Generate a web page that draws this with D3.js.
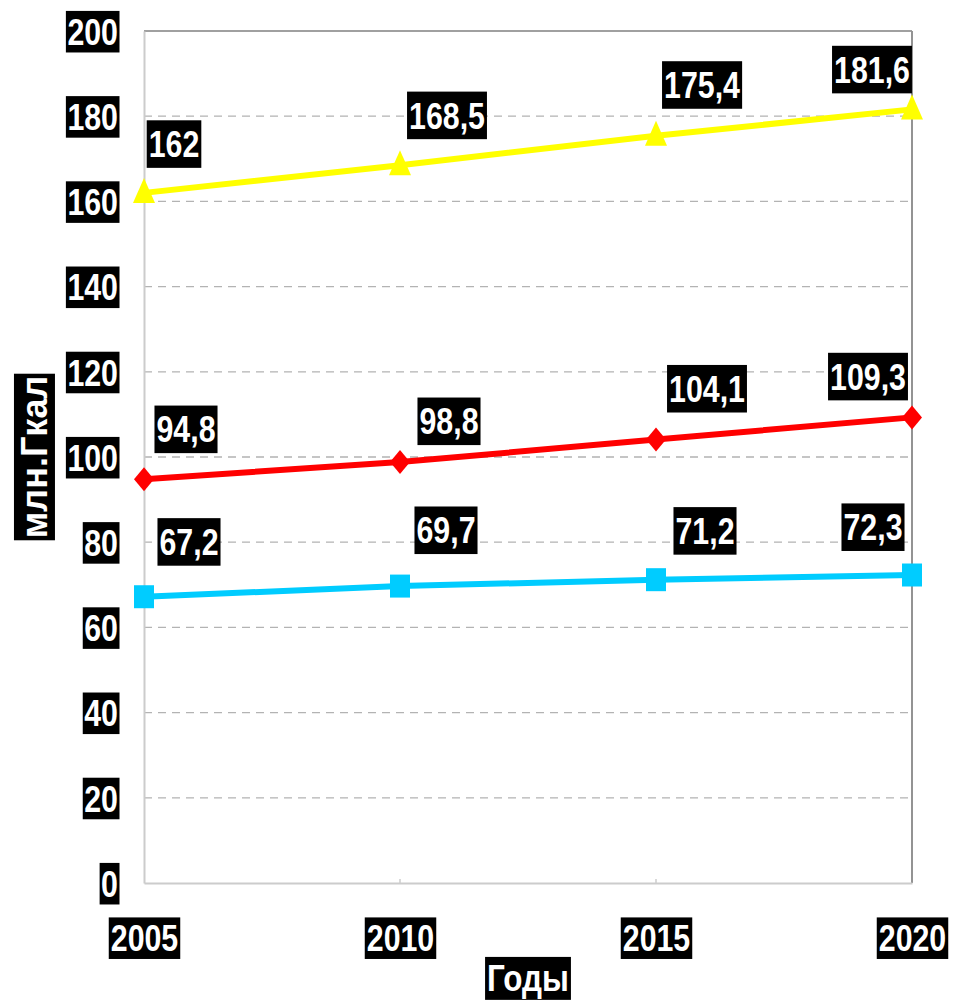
<!DOCTYPE html>
<html>
<head>
<meta charset="utf-8">
<script src="https://cdn.jsdelivr.net/npm/d3@7"></script>
<style>
  body { margin: 0; background: #fff; }
  text { font-family: "Liberation Sans Narrow", "Arial Narrow", "Liberation Sans", sans-serif; font-weight: bold; fill: #fff; }
</style>
</head>
<body>
<div id="chart"></div>
<script>
// data
const years = [2005, 2010, 2015, 2020];
const yTicks = [0, 20, 40, 60, 80, 100, 120, 140, 160, 180, 200];
const yellowVals = [162, 168.5, 175.4, 181.6];
const redVals = [94.8, 98.8, 104.1, 109.3];
const cyanVals = [67.2, 69.7, 71.2, 72.3];

// label placement relative to point (layout only)
const yellowLabelOff = [[30, -49], [47, -50], [46, -51], [-40, -40]];
const redLabelOff = [[42, -50], [49, -41], [51, -51], [-44, -41]];
const cyanLabelOff = [[45, -55], [46, -56], [49, -49], [-39, -48]];

const W = 954, H = 1002;
const margin = { top: 31, right: 42, bottom: 119, left: 144 };
const width = W - margin.left - margin.right;
const height = H - margin.top - margin.bottom;
const NARROW = 0.82; // no narrow font installed, squeeze the bold one

const svg = d3.select("#chart").append("svg")
    .attr("width", W)
    .attr("height", H);

const g = svg.append("g")
    .attr("transform", `translate(${margin.left}, ${margin.top})`);

const xScale = d3.scaleLinear()
    .domain([2005, 2020])
    .range([0, width]);

const yScale = d3.scaleLinear()
    .domain([0, 200])
    .range([height, 0]);

// gridlines
g.append("g")
    .selectAll("line")
    .data(yTicks.filter(d => d > 0 && d < 200))
    .enter()
    .append("line")
    .attr("x1", 0)
    .attr("x2", width)
    .attr("y1", d => yScale(d))
    .attr("y2", d => yScale(d))
    .attr("stroke", "#b3b3b3")
    .attr("stroke-width", 1.3)
    .attr("stroke-dasharray", "8,6");

// plot frame: top and right darker, left and bottom lighter
g.append("line").attr("x1", 0).attr("x2", width).attr("y1", 0).attr("y2", 0)
    .attr("stroke", "#a0a0a0").attr("stroke-width", 2);
g.append("line").attr("x1", width).attr("x2", width).attr("y1", 0).attr("y2", height)
    .attr("stroke", "#939393").attr("stroke-width", 2);

// white text on a black box, optionally squeezed horizontally
function boxText(sel, padX, padY, sx) {
    sel.each(function() {
        const t = d3.select(this);
        const x = +t.attr("x") || 0;
        const y = +t.attr("y") || 0;
        const tr = `translate(${x}, ${y}) scale(${sx}, 1)`;
        t.attr("x", 0).attr("y", 0).attr("transform", tr);
        const b = this.getBBox();
        d3.select(this.parentNode).insert("rect", function() { return t.node(); })
            .attr("transform", tr)
            .attr("x", b.x - padX / sx)
            .attr("y", b.y - padY)
            .attr("width", b.width + 2 * padX / sx)
            .attr("height", b.height + 2 * padY)
            .attr("fill", "#000");
    });
}

// Y axis
const yAxis = d3.axisLeft(yScale)
    .tickValues(yTicks)
    .tickSize(0)
    .tickPadding(26);
const yG = g.append("g").call(yAxis);
yG.select(".domain").attr("stroke", "#cccccc").attr("stroke-width", 2);
yG.selectAll(".tick text")
    .attr("dy", "0.36em")
    .style("font-size", "37px")
    .attr("fill", "#fff");
boxText(yG.selectAll(".tick text"), 1.5, 0, NARROW);

// X axis
const xAxis = d3.axisBottom(xScale)
    .tickValues(years)
    .tickFormat(d3.format("d"))
    .tickSize(0);
const xG = g.append("g")
    .attr("transform", `translate(0, ${height})`)
    .call(xAxis);
xG.select(".domain").attr("stroke", "#cccccc").attr("stroke-width", 2);
xG.selectAll(".tick text")
    .attr("y", 55)
    .attr("dy", "0.36em")
    .style("font-size", "37px")
    .attr("fill", "#fff");
boxText(xG.selectAll(".tick text"), 2, 0, NARROW);

// small inner ticks
g.append("g").selectAll("line")
    .data(years.slice(1, 3))
    .enter().append("line")
    .attr("x1", d => xScale(d)).attr("x2", d => xScale(d))
    .attr("y1", height - 4).attr("y2", height)
    .attr("stroke", "#cccccc").attr("stroke-width", 1.5);

// axis titles
const yTitle = svg.append("g")
    .attr("transform", `translate(34, ${margin.top + height / 2}) rotate(-90)`);
yTitle.append("text")
    .attr("text-anchor", "middle")
    .attr("dy", "0.36em")
    .style("font-size", "36px")
    .text("млн.Гкал");
boxText(yTitle.selectAll("text"), 2, 0, 1);

const xTitle = svg.append("g")
    .attr("transform", `translate(${margin.left + width / 2}, 978)`);
xTitle.append("text")
    .attr("text-anchor", "middle")
    .attr("dy", "0.36em")
    .style("font-size", "37px")
    .text("Годы");
boxText(xTitle.selectAll("text"), 2, 1, 0.85);

// series
const series = [
    { vals: cyanVals, color: "#00ccff", shape: "square", off: cyanLabelOff },
    { vals: redVals, color: "#ff0000", shape: "diamond", off: redLabelOff },
    { vals: yellowVals, color: "#ffff00", shape: "triangle", off: yellowLabelOff }
];

const line = d3.line()
    .x((d, i) => xScale(years[i]))
    .y(d => yScale(d));

function markerPath(shape) {
    if (shape === "square") return "M-10,-11.5H10V11.5H-10Z";
    if (shape === "diamond") return "M0,-12L10,0L0,12L-10,0Z";
    return "M0,-15L11,10H-11Z";
}

series.forEach(s => {
    g.append("path")
        .datum(s.vals)
        .attr("d", line)
        .attr("fill", "none")
        .attr("stroke", s.color)
        .attr("stroke-width", 6);

    g.append("g")
        .selectAll("path")
        .data(s.vals)
        .enter()
        .append("path")
        .attr("transform", (d, i) => `translate(${xScale(years[i])}, ${yScale(d)})`)
        .attr("d", markerPath(s.shape))
        .attr("fill", s.color);
});

// data labels
series.forEach(s => {
    const lg = g.append("g");
    const labels = lg.selectAll("g")
        .data(s.vals)
        .enter()
        .append("g")
        .attr("transform", (d, i) => `translate(${xScale(years[i]) + s.off[i][0]}, ${yScale(d) + s.off[i][1]})`);
    labels.append("text")
        .attr("text-anchor", "middle")
        .attr("dy", "0.36em")
        .style("font-size", "37px")
        .text(d => String(d).replace(".", ","));
    boxText(labels.selectAll("text"), 2, 3, NARROW);
});
</script>
</body>
</html>
